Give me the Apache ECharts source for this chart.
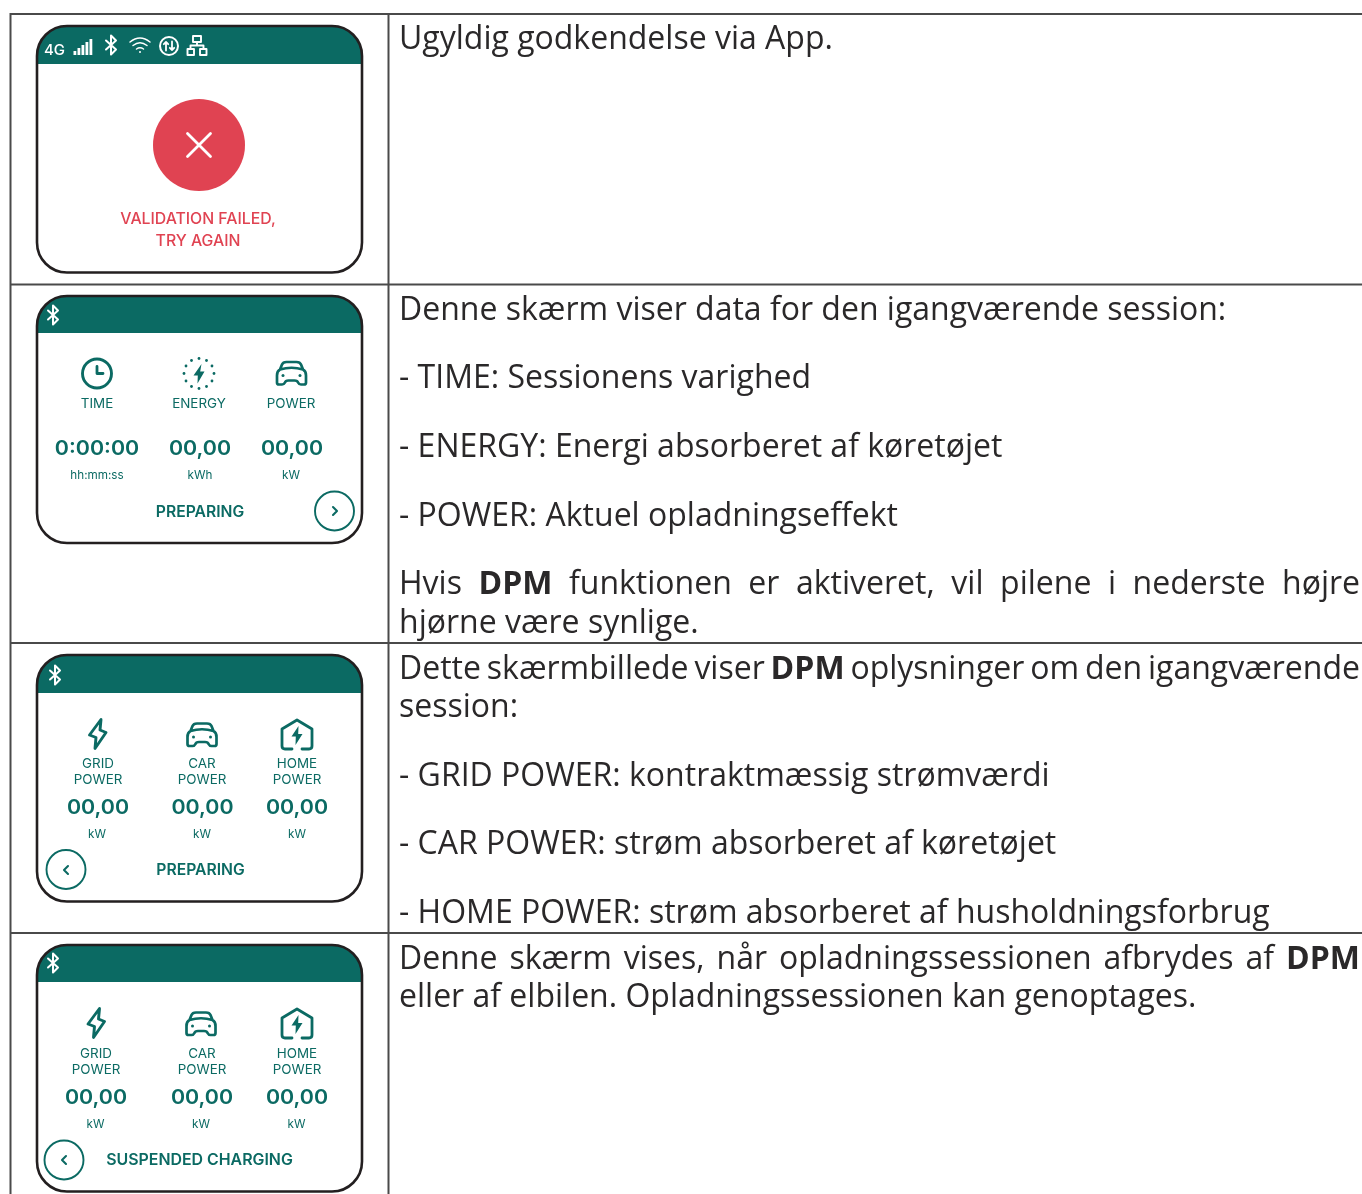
<!DOCTYPE html>
<html><head><meta charset="utf-8">
<style>html,body{margin:0;padding:0;background:#fff;overflow:hidden}#c{width:1362px;height:1194px}</style>
<script src="https://cdn.jsdelivr.net/npm/echarts@6/dist/echarts.min.js"></script>
</head><body><div id="c"></div>
<script>
var rowLines = [14, 284.5, 643, 933];
var colLines = [10.5, 388.5];
var descriptionLines = [
 {t:"Ugyldig godkendelse via App.",y:40},
 {t:"Denne skærm viser data for den igangværende session:",y:311},
 {t:"- TIME: Sessionens varighed",y:379},
 {t:"- ENERGY: Energi absorberet af køretøjet",y:448},
 {t:"- POWER: Aktuel opladningseffekt",y:517},
 {t:"Hvis **DPM** funktionen er aktiveret, vil pilene i nederste højre",y:585,j:1},
 {t:"hjørne være synlige.",y:624},
 {t:"Dette skærmbillede viser **DPM** oplysninger om den igangværende",y:670,j:1},
 {t:"session:",y:708},
 {t:"- GRID POWER: kontraktmæssig strømværdi",y:777},
 {t:"- CAR POWER: strøm absorberet af køretøjet",y:845},
 {t:"- HOME POWER: strøm absorberet af husholdningsforbrug",y:914},
 {t:"Denne skærm vises, når opladningssessionen afbrydes af **DPM**",y:960,j:1},
 {t:"eller af elbilen. Opladningssessionen kan genoptages.",y:998}
];
var screens = [
 {top:26,bottom:272.5,head:64},
 {top:296,bottom:543,head:333},
 {top:655,bottom:901.5,head:693},
 {top:945,bottom:1191.5,head:982}
];
var timeLabels=["TIME","ENERGY","POWER"], timeValues=["0:00:00","00,00","00,00"], timeUnits=["hh:mm:ss","kWh","kW"];
var dpmLabels=[["GRID","POWER"],["CAR","POWER"],["HOME","POWER"]], dpmValues=["00,00","00,00","00,00"], dpmUnits=["kW","kW","kW"];

var TEAL="#0b6a63", RED="#e04352", DARK="#2a2829", FRAME="#231f20", LINE="#4a4a4a", WHITE="#fff";
var UI="Inter", BODY="'Open Sans'", BODY_SIZE=32;
var els=[];
var shapeCache={},shapeN=0;
function shapeType(d){
  if(!shapeCache[d]){var name='iconPath'+(shapeN++);echarts.graphic.registerShape(name,echarts.graphic.extendPath(d,{}));shapeCache[d]=name;}
  return shapeCache[d];
}
function txt(t,x,y,size,weight,fill,align,family){
  els.push({type:'text',silent:true,z:10,style:{text:t,x:x,y:y,fill:fill,align:align||'center',verticalAlign:'middle',
    font:(weight||400)+' '+size+'px '+(family||UI)}});
}
function val(t,x,y){
  els.push({type:'text',silent:true,z:10,x:x,y:y,scaleX:1.05,style:{text:t,x:0,y:0,fill:TEAL,align:'center',verticalAlign:'middle',font:'600 20.4px '+UI}});
}
function stroke(d,x,y,color,w,fillc){
  els.push({type:shapeType(d),silent:true,z:8,x:x,y:y,style:{fill:fillc||'none',stroke:color,lineWidth:w,lineJoin:'round',lineCap:'round'}});
}
function fillp(d,x,y,color){
  els.push({type:shapeType(d),silent:true,z:8,x:x,y:y,style:{fill:color,stroke:'none'}});
}
function circle(x,y,r,fillc,strokec,w){
  els.push({type:'circle',silent:true,z:7,shape:{cx:x,cy:y,r:r},style:{fill:fillc||'none',stroke:strokec||'none',lineWidth:w||0}});
}
// table rules
rowLines.forEach(function(y){els.push({type:'line',silent:true,shape:{x1:10,y1:y,x2:1362,y2:y},style:{stroke:LINE,lineWidth:2}});});
colLines.forEach(function(x){els.push({type:'line',silent:true,shape:{x1:x,y1:13,x2:x,y2:1194},style:{stroke:LINE,lineWidth:2}});});
// screens
screens.forEach(function(s){
  var L=37,R=362,r=30;
  els.push({type:'rect',silent:true,z:3,shape:{x:L,y:s.top,width:R-L,height:s.head-s.top,r:[r,r,0,0]},style:{fill:TEAL}});
  els.push({type:'rect',silent:true,z:12,shape:{x:L,y:s.top,width:R-L,height:s.bottom-s.top,r:r},style:{fill:'none',stroke:FRAME,lineWidth:2.6}});
});
// icons
var BT="M-5,-4.5 L5,4.5 L0,9.5 L0,-9.5 L5,-4.5 L-5,4.5";
var BOLT_OUT="M3,-14.5 L-8.5,1 L-2,3.5 L-3,14.5 L8,-1.5 L2,-4 Z";
var BOLT_IN="M1.5,-9 L-5.5,1.5 L-1.2,1.5 L-1.5,10 L5.5,-1 L1.2,-1 Z";
var CAR="M-11.5,-4 L-9.5,-9 Q-8.5,-11.5 -5,-11.5 L5,-11.5 Q8.5,-11.5 9.5,-9 L11.5,-4 M-11.5,-4 Q-14.5,-2.5 -14.5,2 L-14.5,9 Q-14.5,11 -12.5,11 L-9.5,11 Q-7.5,11 -6.5,9 Q-6,7 -3,7 L3,7 Q6,7 6.5,9 Q7.5,11 9.5,11 L12.5,11 Q14.5,11 14.5,9 L14.5,2 Q14.5,-2.5 11.5,-4 Q0,-7.5 -11.5,-4 Z";
var HOME="M-5,14 L-12,14 Q-15,14 -15,11 L-15,-6 L0,-15 L15,-6 L15,11 Q15,14 12,14 L5,14";
function car(x,y){stroke(CAR,x,y,TEAL,2.7);circle(x-8.5,y+2,1.5,TEAL);circle(x+8.5,y+2,1.5,TEAL);}
function chevron(x,y,dir){stroke("M"+(-2*dir)+",-4 L"+(2*dir)+",0 L"+(-2*dir)+",4",x,y,TEAL,2.1);}
function dpmIcons(xs,y){
  stroke(BOLT_OUT,xs[0],y,TEAL,2.9);
  car(xs[1],y+1);
  stroke(HOME,xs[2],y+1,TEAL,2.8);fillp(BOLT_IN,xs[2],y+1,TEAL);
}
// screen 1
var sy=45;
txt("4G",54.5,50.5,15,500,WHITE);
[0,1,2,3,4].forEach(function(i){var h=[4,7,10,13,16][i];els.push({type:'rect',silent:true,z:8,shape:{x:73.5+i*4,y:55-h,width:2.8,height:h},style:{fill:WHITE}});});
stroke(BT,111,sy,WHITE,2);
stroke("M-10,-3 Q0,-11 10,-3 M-7,0.5 Q0,-5 7,0.5 M-3.5,4 Q0,1.5 3.5,4",140,sy,WHITE,1.5);circle(140,sy+7,1,WHITE);
circle(169,46,9,'none',WHITE,2);
stroke("M-3,4.5 L-3,-4 M-5.2,-1.8 L-3,-4 L-0.8,-1.8 M3,-4.5 L3,4 M0.8,1.8 L3,4 L5.2,1.8",169,46,WHITE,1.8);
stroke("M-4,-9.5 L4,-9.5 L4,-3.5 L-4,-3.5 Z M0,-3.5 L0,0 M-6.5,0 L6.5,0 M-6.5,0 L-6.5,3.5 M6.5,0 L6.5,3.5 M-9.5,3.5 L-3,3.5 L-3,9.5 L-9.5,9.5 Z M3,3.5 L9.5,3.5 L9.5,9.5 L3,9.5 Z",197,45.5,WHITE,1.9);
circle(199,145,46,RED);
stroke("M-11.5,-11.5 L11.5,11.5 M11.5,-11.5 L-11.5,11.5",199,145,WHITE,2.8);
txt("VALIDATION FAILED,",198,219,15.8,500,RED);
txt("TRY AGAIN",198,241,15.8,500,RED);
// screen 2
stroke(BT,53,315,WHITE,2);
circle(97,373.5,14.5,'none',TEAL,2.9);
stroke("M0,-7 L0,0 L6,0",97,373.5,TEAL,2.8);
for(var i=0;i<12;i++){var a=i*Math.PI/6;circle(199+15*Math.cos(a),373.5+15*Math.sin(a),1.4,TEAL);}
fillp("M2.5,-9.5 L-5.5,2 L-1.2,2 L-1.5,10 L5.5,-2 L1.2,-2 Z",199,373.5,TEAL);
car(291.5,373.5);
[97,199,291].forEach(function(x,i){txt(timeLabels[i],x,403.7,13.4,400,TEAL);});
[97,200,292].forEach(function(x,i){val(timeValues[i],x,448.5);});
[97,200,291].forEach(function(x,i){txt(timeUnits[i],x,475.4,11.7,400,TEAL);});
txt("PREPARING",200,512,15.7,600,TEAL);
circle(334.5,511,19.5,'none',TEAL,1.9);chevron(335,511,1);
// screen 3
stroke(BT,55,675,WHITE,2);
dpmIcons([98,202,297],734);
[98,202,297].forEach(function(x,i){txt(dpmLabels[i][0],x,764,13.4,400,TEAL);txt(dpmLabels[i][1],x,780,13.4,400,TEAL);});
[98,202.5,297].forEach(function(x,i){val(dpmValues[i],x,807.5);});
[97,202,297].forEach(function(x,i){txt(dpmUnits[i],x,834.4,11.7,400,TEAL);});
circle(66,869.5,19.5,'none',TEAL,1.9);chevron(66,870,-1);
txt("PREPARING",200.5,870.5,15.7,600,TEAL);
// screen 4
stroke(BT,53,963,WHITE,2);
dpmIcons([96.5,201,297],1023);
[96,202,297].forEach(function(x,i){txt(dpmLabels[i][0],x,1054,13.4,400,TEAL);txt(dpmLabels[i][1],x,1070,13.4,400,TEAL);});
[96,202,297].forEach(function(x,i){val(dpmValues[i],x,1097.5);});
[95.5,201,296.5].forEach(function(x,i){txt(dpmUnits[i],x,1124.4,11.7,400,TEAL);});
circle(64,1160,19.5,'none',TEAL,1.9);chevron(64,1160,-1);
txt("SUSPENDED CHARGING",199.5,1160.5,15.9,600,TEAL);
// right column text
var ctx=document.createElement('canvas').getContext('2d');
function w(s,b){ctx.font=(b?700:400)+' '+BODY_SIZE+'px '+BODY;return ctx.measureText(s).width;}
var LEFT=399, RIGHT=1360;
descriptionLines.forEach(function(l){
  var hasBold=l.t.indexOf('**')>=0;
  if(!hasBold&&!l.j){txt(l.t,LEFT,l.y,BODY_SIZE,400,DARK,'left',BODY);return;}
  var words=l.t.split(' ').map(function(s){var b=s.indexOf('**')===0;return {s:s.replace(/\*\*/g,''),b:b};});
  var total=0;words.forEach(function(o){o.w=w(o.s,o.b);total+=o.w;});
  var gap=(RIGHT-LEFT-total)/(words.length-1), x=LEFT;
  words.forEach(function(o){txt(o.s,x,l.y,BODY_SIZE,o.b?700:400,DARK,'left',BODY);x+=o.w+gap;});
});
var chart=echarts.init(document.getElementById('c'),null,{renderer:'canvas',width:1362,height:1194});
chart.setOption({animation:false,backgroundColor:'#fff',graphic:{elements:els}});
</script></body></html>
